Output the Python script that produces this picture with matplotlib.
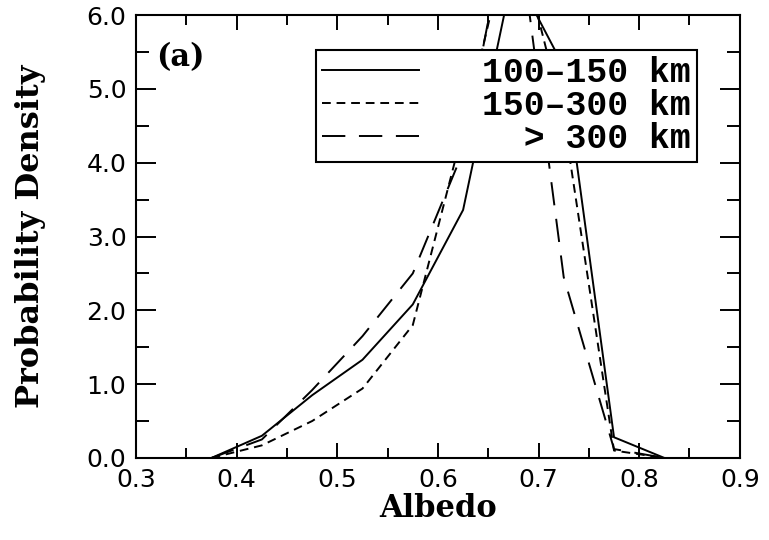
import matplotlib
matplotlib.use("Agg")
import matplotlib.pyplot as plt
from matplotlib.ticker import MultipleLocator, FormatStrFormatter
from matplotlib.font_manager import FontProperties

# albedo bin centres and probability density per diameter class
albedo = [0.375, 0.425, 0.475, 0.525, 0.575, 0.625, 0.675, 0.725, 0.775, 0.825]
dens_100_150 = [0.0, 0.30, 0.85, 1.33, 2.08, 3.36, 6.6, 5.3, 0.28, 0.0]
dens_150_300 = [0.0, 0.17, 0.50, 0.94, 1.80, 4.45, 7.3, 4.6, 0.10, 0.0]
dens_gt_300 = [0.0, 0.25, 0.92, 1.65, 2.50, 4.15, 7.7, 2.45, 0.12, 0.0]
labels = ["100\u2013150 km", "150\u2013300 km", "  > 300 km"]

fig = plt.figure(figsize=(7.69, 5.40), dpi=100)
ax = fig.add_axes([0.177, 0.152, 0.785, 0.820])

lw = 1.4
ax.plot(albedo, dens_100_150, color="black", lw=lw, label=labels[0])
ax.plot(albedo, dens_150_300, color="black", lw=lw, dashes=(4.5, 3), label=labels[1])
ax.plot(albedo, dens_gt_300, color="black", lw=lw, dashes=(12, 7), label=labels[2])

ax.set_xlim(0.3, 0.9)
ax.set_ylim(0.0, 6.0)
ax.xaxis.set_major_locator(MultipleLocator(0.1))
ax.xaxis.set_minor_locator(MultipleLocator(0.05))
ax.yaxis.set_major_locator(MultipleLocator(1.0))
ax.yaxis.set_minor_locator(MultipleLocator(0.5))
ax.xaxis.set_major_formatter(FormatStrFormatter("%.1f"))
ax.yaxis.set_major_formatter(FormatStrFormatter("%.1f"))

for s in ax.spines.values():
    s.set_linewidth(1.5)

ax.tick_params(axis="both", which="both", direction="in", top=True, right=True,
               width=1.4, labelsize=18)
ax.tick_params(axis="x", which="major", length=10.8, pad=7)
ax.tick_params(axis="x", which="minor", length=7.2)
ax.tick_params(axis="y", which="major", length=14.4, pad=7)
ax.tick_params(axis="y", which="minor", length=9.4)
for t in ax.get_xticklabels() + ax.get_yticklabels():
    t.set_family("DejaVu Sans")

ax.set_xlabel("Albedo", labelpad=1, family="DejaVu Serif", weight="bold", size=22)
ax.set_ylabel("Probability Density", labelpad=29, family="DejaVu Serif",
              weight="bold", size=23)

ax.text(0.033, 0.905, "(a)", transform=ax.transAxes, ha="left", va="center",
        family="DejaVu Serif", weight="bold", size=22)

leg = ax.legend(loc="upper right", bbox_to_anchor=(0.929, 0.921), borderaxespad=0,
                fancybox=False, edgecolor="black", framealpha=1,
                prop=FontProperties(family="Liberation Mono", weight="bold", size=25),
                handlelength=2.8, handletextpad=1.8, labelspacing=0.0, borderpad=0.18)
leg.get_frame().set_linewidth(1.5)

fig.savefig("out.png", dpi=100)
